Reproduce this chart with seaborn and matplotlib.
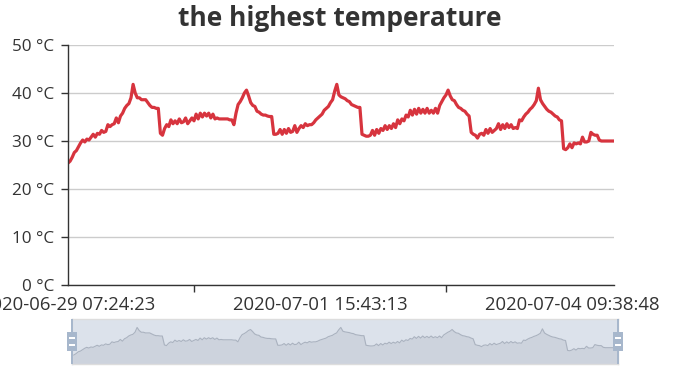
import matplotlib
matplotlib.use('Agg')
import matplotlib.pyplot as plt
import pandas as pd
import seaborn as sns
from matplotlib.patches import Rectangle

# highest temperature per sample (category axis)
temps = [
    25.4, 25.8, 26.6, 27.6, 28.0, 28.8, 29.6, 30.2, 29.8, 30.4,
    30.2, 30.8, 31.4, 30.8, 31.6, 31.4, 32.2, 31.8, 32.0, 33.4,
    33.0, 33.4, 33.6, 34.8, 33.8, 35.2, 35.8, 36.8, 37.4, 37.8,
    39.0, 41.8, 40.0, 39.0, 39.0, 38.6, 38.6, 38.6, 38.0, 37.4,
    37.0, 37.0, 36.8, 36.8, 31.6, 31.2, 32.6, 33.4, 33.0, 34.4,
    33.6, 34.2, 33.6, 34.6, 33.8, 34.0, 34.8, 33.6, 34.2, 34.8,
    34.2, 35.6, 34.6, 35.8, 35.0, 35.8, 35.2, 35.8, 34.8, 35.6,
    34.6, 34.8, 34.6, 34.6, 34.6, 34.6, 34.6, 34.4, 34.4, 33.4,
    35.8, 37.6, 38.2, 39.0, 40.0, 40.6, 39.4, 38.0, 37.4, 37.2,
    36.2, 36.0, 35.6, 35.4, 35.4, 35.2, 35.1, 35.1, 31.4, 31.4,
    31.6, 32.4, 31.4, 32.4, 31.6, 32.6, 31.8, 32.0, 33.2, 31.8,
    32.6, 33.2, 32.8, 33.6, 33.2, 33.4, 33.4, 33.8, 34.4, 34.8,
    35.2, 35.6, 36.4, 36.8, 37.2, 38.0, 38.6, 40.4, 41.8, 39.6,
    39.2, 39.0, 38.8, 38.4, 38.2, 37.6, 37.4, 37.2, 37.0, 37.0,
    31.4, 31.2, 31.0, 31.0, 31.2, 32.2, 31.2, 32.4, 31.6, 32.6,
    32.2, 33.2, 32.4, 33.2, 32.6, 33.6, 32.8, 34.4, 33.6, 34.6,
    34.2, 35.4, 35.0, 36.4, 35.4, 36.6, 35.6, 36.8, 35.8, 36.6,
    35.8, 36.8, 35.8, 36.4, 35.8, 36.8, 35.8, 37.4, 38.2, 39.0,
    39.6, 40.6, 39.4, 38.6, 38.4, 37.6, 37.0, 36.8, 36.4, 36.2,
    35.6, 35.2, 31.8, 31.4, 31.2, 30.6, 31.4, 31.6, 31.2, 32.4,
    31.6, 32.6, 31.8, 32.2, 32.6, 33.6, 32.4, 33.4, 32.6, 33.6,
    32.8, 33.4, 32.6, 32.8, 32.6, 34.4, 34.2, 35.0, 35.6, 36.0,
    36.6, 37.0, 37.6, 38.4, 41.0, 38.6, 37.8, 37.2, 36.6, 36.2,
    36.0, 35.6, 35.2, 35.0, 34.4, 34.2, 28.4, 28.2, 28.6, 29.4,
    28.6, 29.6, 29.4, 29.6, 29.4, 30.8, 29.8, 29.8, 30.0, 31.8,
    31.4, 31.2, 31.2, 30.2, 30.0, 30.0, 30.0, 30.0, 30.0, 30.0,
    30.0,
]
label_idx = [0, 120, 240]
label_text = ['2020-06-29 07:24:23', '2020-07-01 15:43:13', '2020-07-04 09:38:48']
tick_idx = [60, 180]
y_ticks = [0, 10, 20, 30, 40, 50]

df = pd.DataFrame({'idx': range(len(temps)), 'temp': temps})
n_last = len(temps) - 1

sns.set_theme(style='white')
plt.rcParams['font.family'] = ['Open Sans', 'DejaVu Sans']

fig = plt.figure(figsize=(6.82, 3.75), dpi=100)

# main chart
ax = fig.add_axes([68 / 682, 90 / 375, 546 / 682, 240 / 375])
sns.lineplot(data=df, x='idx', y='temp', ax=ax, color='#d7343e', linewidth=2.3)
ax.set_xlim(0, n_last)
ax.set_ylim(0, 50)
ax.set_yticks(y_ticks)
ax.set_yticklabels([f'{v} °C' for v in y_ticks])
ax.yaxis.grid(True, color='#cccccc', linewidth=1)
ax.set_axisbelow(True)
ax.set_xticks(label_idx)
ax.set_xticklabels(label_text)
ax.set_xticks(tick_idx, minor=True)
ax.tick_params(axis='x', which='major', length=0, pad=8, labelsize=13.3, colors='#333333')
ax.tick_params(axis='x', which='minor', length=5, width=1, color='#333333', bottom=True)
ax.tick_params(axis='y', length=5, width=1, color='#333333', left=True, pad=5,
               labelsize=12.3, labelcolor='#333333')
for side in ['top', 'right']:
    ax.spines[side].set_visible(False)
for side in ['left', 'bottom']:
    ax.spines[side].set_color('#333333')
    ax.spines[side].set_linewidth(1)
ax.set_xlabel('')
ax.set_ylabel('')
fig.text(340 / 682, 1 - 18 / 375, 'the highest temperature', ha='center', va='center',
         fontsize=19, fontweight='bold', color='#333333')

# data zoom slider
sx0, sx1, sy0, sy1 = 72, 618, 319, 364
ax_s = fig.add_axes([sx0 / 682, 1 - sy1 / 375, (sx1 - sx0) / 682, (sy1 - sy0) / 375])
lo, hi = min(temps), max(temps)
off = (hi - lo) * 0.3
ax_s.set_facecolor('#dce2eb')
ax_s.fill_between(df['idx'], df['temp'], lo - off, color='#cdd3dd', linewidth=0)
sns.lineplot(data=df, x='idx', y='temp', ax=ax_s, color='#aab2bf', linewidth=0.8)
ax_s.set_xlim(0, n_last)
ax_s.set_ylim(lo - off, hi + off)
ax_s.set_xticks([])
ax_s.set_yticks([])
ax_s.set_xlabel('')
ax_s.set_ylabel('')
for sp in ax_s.spines.values():
    sp.set_color('#dddddd')
    sp.set_linewidth(1)

# slider handles
for hx in (sx0, sx1):
    fig.add_artist(Rectangle(((hx - 1) / 682, 1 - sy1 / 375), 2 / 682, (sy1 - sy0) / 375,
                             transform=fig.transFigure, color='#a7b7cc', lw=0))
    fig.add_artist(Rectangle(((hx - 5) / 682, 1 - 351 / 375), 10 / 682, 19 / 375,
                             transform=fig.transFigure, color='#a7b7cc', lw=0))
    for by in (337, 344):
        fig.add_artist(Rectangle(((hx - 3) / 682, 1 - (by + 1.5) / 375), 6 / 682, 1.5 / 375,
                                 transform=fig.transFigure, color='white', lw=0))

fig.savefig('out.png', dpi=100)
